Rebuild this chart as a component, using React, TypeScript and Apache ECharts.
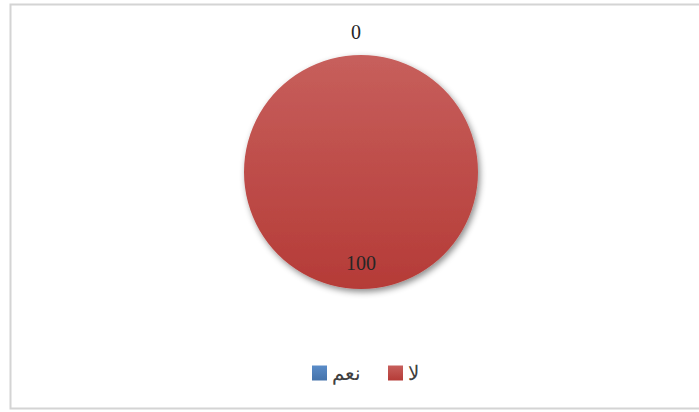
import React, { useEffect, useRef } from "react";
import * as echarts from "echarts";

const categories = ["نعم", "لا"];
const values = [0, 100];
const colors = ["#4F81BD", "#C0504D"];

export default function App() {
  const ref = useRef<HTMLDivElement>(null);
  useEffect(() => {
    if (!ref.current) return;
    const chart = echarts.init(ref.current, undefined, { renderer: "svg" });
    const serif = "'Liberation Serif', 'Times New Roman', serif";
    chart.setOption({
      animation: false,
      backgroundColor: "#ffffff",
      graphic: [
        {
          type: "rect",
          shape: { x: 10.5, y: 4.5, width: 700, height: 404 },
          style: { fill: "none", stroke: "#d4d4d4", lineWidth: 2 },
          silent: true,
        },
      ],
      legend: {
        data: categories,
        left: 307,
        top: 358,
        icon: "rect",
        itemWidth: 15,
        itemHeight: 15,
        itemGap: 27,
        textStyle: { fontFamily: serif, fontSize: 20, color: "#404040" },
      },
      series: [
        {
          type: "pie",
          center: [361, 172],
          radius: [0, 117],
          startAngle: 90,
          clockwise: true,
          minAngle: 0,
          stillShowZeroSum: true,
          avoidLabelOverlap: false,
          labelLine: { show: false, length: 23, length2: 0 },
          itemStyle: {
            shadowBlur: 6,
            shadowOffsetX: 2,
            shadowOffsetY: 3,
            shadowColor: "rgba(0,0,0,0.45)",
          },
          data: categories.map((name, i) => ({
            name,
            value: values[i],
            itemStyle: {
              color: {
                type: "linear",
                x: 0,
                y: 0,
                x2: 0,
                y2: 1,
                colorStops: [
                  { offset: 0, color: i === 0 ? "#5a8cc8" : "#c75f5c" },
                  { offset: 1, color: i === 0 ? "#4573ab" : "#b53b37" },
                ],
              },
            },
            label:
              i === 0
                ? {
                    show: true,
                    position: "outside",
                    distanceToLabelLine: 0,
                    formatter: "{c}",
                    fontFamily: serif,
                    fontSize: 20,
                    color: "#262626",
                  }
                : {
                    show: true,
                    position: "inside",
                    formatter: "\n{c}",
                    fontFamily: serif,
                    fontSize: 20,
                    lineHeight: 58,
                    color: "#262626",
                  },
          })),
        },
      ],
    });
    return () => chart.dispose();
  }, []);
  return (
    <div
      ref={ref}
      style={{ position: "fixed", left: 0, top: 0, width: 699, height: 412 }}
    />
  );
}
